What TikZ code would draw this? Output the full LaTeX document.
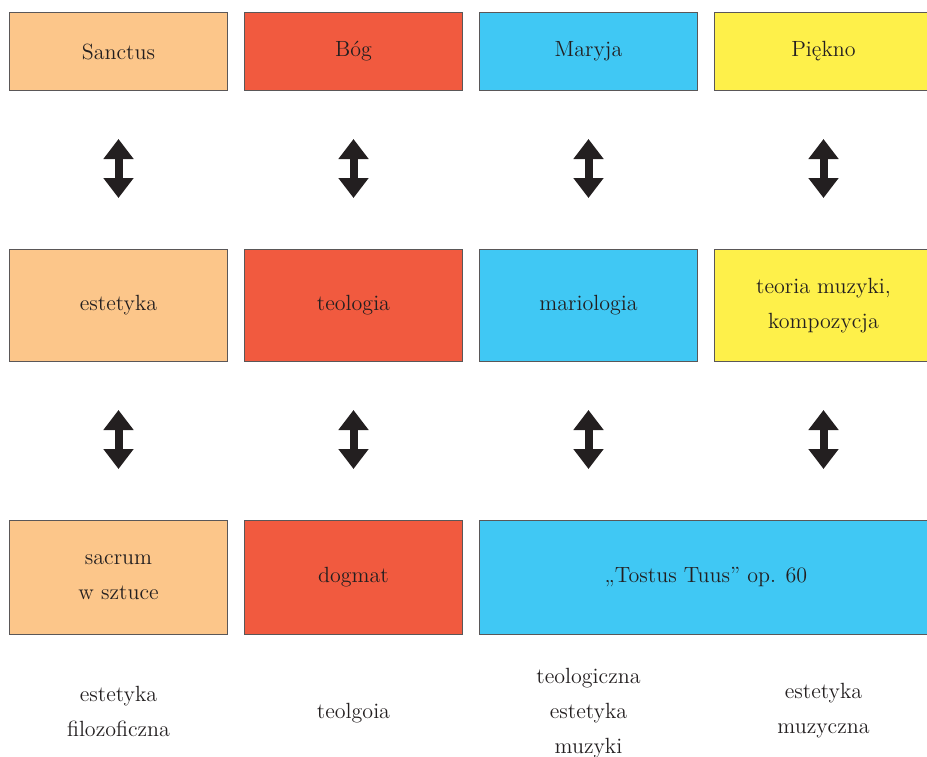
\documentclass[tikz,border=0pt]{standalone}
\usepackage{fontspec}
\usepackage{xcolor}
\usetikzlibrary{arrows.meta,positioning}

\definecolor{peach}{HTML}{FCC68A}
\definecolor{tomato}{HTML}{F15A3F}
\definecolor{sky}{HTML}{40C8F4}
\definecolor{lemon}{HTML}{FEF04A}
\definecolor{ink}{HTML}{231F20}

\tikzset{
  box/.style={draw=ink!75,line width=0.5pt,minimum width=109pt,align=center,inner sep=0pt},
  lbl/.style={align=center,text=ink},
  link/.style={{Triangle[length=10pt,width=14.5pt]}-{Triangle[length=10pt,width=14.5pt]},line width=4pt,ink,
    shorten <=24pt,shorten >=25.5pt}
}

\begin{document}
\begin{tikzpicture}[node distance=79pt and 8pt,
  font=\fontsize{11}{17.5}\selectfont, text=ink]
  \useasboundingbox (0,0) rectangle (463.5pt,-378pt);
  % top row
  \node[box,fill=peach,minimum height=39pt,anchor=north west] (sanctus) at (4.5pt,-6pt) {Sanctus};
  \node[box,fill=tomato,minimum height=39pt,right=of sanctus] (bog) {Bóg};
  \node[box,fill=sky,minimum height=39pt,right=of bog] (maryja) {Maryja};
  \node[box,fill=lemon,minimum height=39pt,right=of maryja] (piekno) {Piękno};
  % middle row
  \node[box,fill=peach,minimum height=56pt,below=of sanctus] (estetyka) {estetyka};
  \node[box,fill=tomato,minimum height=56pt,below=of bog] (teologia) {teologia};
  \node[box,fill=sky,minimum height=56pt,below=of maryja] (mariologia) {mariologia};
  \node[box,fill=lemon,minimum height=56pt,below=of piekno] (teoria) {teoria muzyki,\\kompozycja};
  % bottom row
  \node[box,fill=peach,minimum height=57pt,below=of estetyka] (sacrum) {sacrum\\w sztuce};
  \node[box,fill=tomato,minimum height=57pt,below=of teologia] (dogmat) {dogmat};
  \node[box,fill=sky,minimum height=57pt,minimum width=226.5pt,anchor=north west]
    (tostus) at ([yshift=-79pt]mariologia.south west) {„Tostus Tuus” op. 60};
  % captions
  \node[lbl,below=38pt of sacrum,anchor=center] (filoz) {estetyka\\filozoficzna};
  \node[lbl,below=39pt of dogmat,anchor=center] (teolg) {teolgoia};
  \node[lbl,anchor=center] (teolmuz) at ([yshift=-39pt]tostus.south -| maryja) {teologiczna\\estetyka\\muzyki};
  \node[lbl,anchor=center] (muzycz) at ([yshift=-38pt]tostus.south -| piekno) {estetyka\\muzyczna};
  % arrows
  \draw[link] (sanctus) -- (estetyka);
  \draw[link] (bog) -- (teologia);
  \draw[link] (maryja) -- (mariologia);
  \draw[link] (piekno) -- (teoria);
  \draw[link] (estetyka) -- (sacrum);
  \draw[link] (teologia) -- (dogmat);
  \draw[link] (mariologia) -- (mariologia |- tostus.north);
  \draw[link] (teoria) -- (teoria |- tostus.north);
\end{tikzpicture}
\end{document}
